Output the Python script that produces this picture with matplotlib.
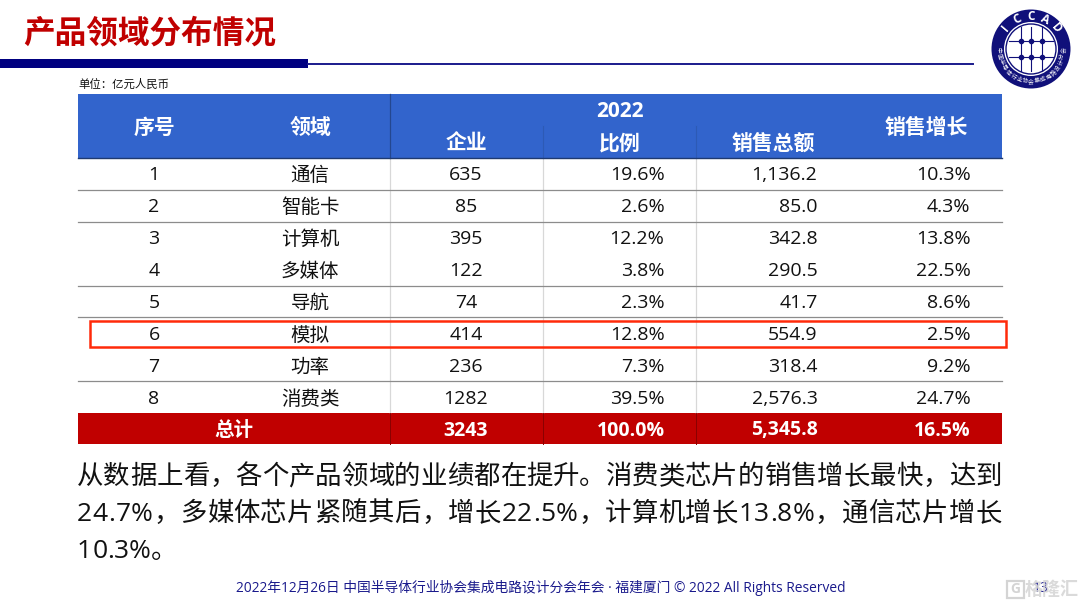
import numpy as np
import matplotlib
matplotlib.use("Agg")
import matplotlib.pyplot as plt
from matplotlib.patches import Rectangle, Circle

FONT = ['Open Sans', 'Noto Sans CJK SC', 'DejaVu Sans']
plt.rcParams['font.family'] = FONT

title = "产品领域分布情况"[:8]
unit = "单位：亿元人民币"
ids = ["1", "2", "3", "4", "5", "6", "7", "8"]
fields = ["通信", "智能卡", "计算机", "多媒体", "导航", "模拟", "功率", "消费类"]
companies = ["635", "85", "395", "122", "74", "414", "236", "1282"]
shares = ["19.6%", "2.6%", "12.2%", "3.8%", "2.3%", "12.8%", "7.3%", "39.5%"]
sales = ["1,136.2", "85.0", "342.8", "290.5", "41.7", "554.9", "318.4", "2,576.3"]
growth = ["10.3%", "4.3%", "13.8%", "22.5%", "8.6%", "2.5%", "9.2%", "24.7%"]
total = ["总计", "3243", "100.0%", "5,345.8", "16.5%"]
body_lines = ["从数据上看，各个产品领域的业绩都在提升。消费类芯片的销售增长最快，达到",
              "24.7%，多媒体芯片紧随其后，增长22.5%，计算机增长13.8%，通信芯片增长",
              "10.3%。"]
footer = "2022年12月26日 中国半导体行业协会集成电路设计分会年会 · 福建厦门 © 2022 All Rights Reserved"

NAVY = "#000080"
BLUE = "#3264CC"
RED = "#C00000"
fig = plt.figure(figsize=(10.8, 6.06), dpi=100)
ax = fig.add_axes([0, 0, 1, 1])
ax.set_xlim(0, 1080); ax.set_ylim(606, 0); ax.axis("off")

# title band
ax.text(23, 33, title, fontsize=22.8, fontweight="bold", color=RED, va="center", ha="left",
        family=['Noto Sans CJK SC'])
ax.add_patch(Rectangle((0, 59), 308, 9, color=NAVY, lw=0))
ax.plot([308, 973], [63.5, 63.5], color="#1a1a8c", lw=1.4)
ax.text(78, 85, unit, fontsize=8.2, color="#111111", va="center", ha="left")

# table layout
L, R = 78, 1002
top, head = 94, 158
rows = [158, 190, 222, 254, 286, 317, 349, 381, 413]
bot = 444
row_h = 32
ax.add_patch(Rectangle((L, top), R - L, head - top, color=BLUE, lw=0))
ax.add_patch(Rectangle((L, rows[-1]), R - L, bot - rows[-1], color=RED, lw=0))
for x in (390, 543, 696):
    ax.plot([x, x], [158, rows[-1]], color="#d8d8d8", lw=0.9, zorder=1)
    ax.plot([x, x], [rows[-1], bot], color="#8a0000", lw=0.7, zorder=2)
ax.plot([390, 390], [top, head], color="#24478f", lw=0.9)
for x in (543, 696):
    ax.plot([x, x], [126, head], color="#2d5ab5", lw=0.8)
ax.plot([L, R], [head, head], color="#1f3a70", lw=1)
skip = (254, 349)
for y in rows[1:-1]:
    if y in skip:
        continue
    ax.plot([L, R], [y, y], color="#8c8c8c", lw=0.9, zorder=1)

hk = dict(color="white", fontsize=15, fontweight="bold", va="center", ha="center",
          family=['Noto Sans CJK SC'])
ax.text(154, 127.5, "序号", **hk)
ax.text(310, 127.5, "领域", **hk)
ax.text(620, 111.5, "2022", **{**hk, "family": FONT})
ax.text(466, 143.5, "企业", **hk)
ax.text(620, 143.5, "比例", **hk)
ax.text(773, 143.5, "销售总额", **hk)
ax.text(926, 127.5, "销售增长", **hk)

bk = dict(color="#111111", fontsize=14, va="center")
for i in range(8):
    y = head + row_h / 2 + i * row_h + 0.5
    ax.text(154, y, ids[i], ha="center", **bk)
    ax.text(310, y + 1, fields[i], ha="center", **bk)
    ax.text(466, y, companies[i], ha="center", **bk)
    ax.text(664.5, y, shares[i], ha="right", **bk)
    ax.text(817.5, y, sales[i], ha="right", **bk)
    ax.text(970.5, y, growth[i], ha="right", **bk)
tk = dict(color="white", fontsize=14, fontweight="bold", va="center")
ym = head + row_h / 2 + 8 * row_h + 0.5
ax.text(234, ym, total[0], ha="center", **tk)
ax.text(466, ym, total[1], ha="center", **tk)
ax.text(664.5, ym, total[2], ha="right", **tk)
ax.text(817.5, ym, total[3], ha="right", **tk)
ax.text(970.5, ym, total[4], ha="right", **tk)

# highlight frame
ax.add_patch(Rectangle((90, 320.5), 916, 26.5, fill=False, ec="#FF2A0A", lw=1.8, zorder=5))

# commentary, justified to the text block width
rend = fig.canvas.get_renderer()
def char_w(ch):
    t = ax.text(0, 0, ch, fontsize=19)
    w = t.get_window_extent(rend).width
    t.remove()
    return w
def draw_line(txt, x0, x1, y):
    widths = [char_w(c) for c in txt]
    gap = 0 if x1 is None else (x1 - x0 - sum(widths)) / (len(txt) - 1)
    x = x0
    for c, w in zip(txt, widths):
        ax.text(x, y, c, fontsize=19, color="#111111", va="baseline", ha="left")
        x += w + gap
draw_line(body_lines[0], 77, 1002, 484)
draw_line(body_lines[1], 77, 1002, 521)
draw_line(body_lines[2], 77, None, 558)

ax.text(540.5, 588, footer, fontsize=9.9, color="#1a1a8c", va="center", ha="center")

# page number + watermark
ax.text(1041, 588, "13", fontsize=10, color="#1a1a8c", va="center", ha="center")
ax.add_patch(Rectangle((1007, 581), 17, 17, fill=False, ec="#d4d4d4", lw=1.6, zorder=6))
ax.text(1015.5, 589, "G", fontsize=10, fontweight="bold", color="#d4d4d4", va="center", ha="center", zorder=6)
ax.text(1052, 590, "格隆汇", fontsize=13, fontweight="bold", color="#d4d4d4", alpha=0.85,
        va="center", ha="center", zorder=6)

# logo
cx, cy = 1031, 49
ax.add_patch(Circle((cx, cy), 39.5, color="#10107a", lw=0, zorder=3))
ax.add_patch(Circle((cx, cy), 27, fc="white", ec="white", lw=0, zorder=4))
ax.add_patch(Circle((cx, cy), 25, fc="white", ec="#10107a", lw=1, zorder=4))
for dx in (-10, 0, 11):
    ax.plot([cx + dx, cx + dx], [cy - 22, cy + 22], color="#10107a", lw=0.8, zorder=5)
for dy in (-8, 8):
    ax.plot([cx - 22, cx + 22], [cy + dy, cy + dy], color="#10107a", lw=0.8, zorder=5)
    ax.plot([cx - 10, cx, cx + 11], [cy + dy] * 3, "o", color="#10107a", ms=3, zorder=6)
for i, ch in enumerate("ICCAD"):
    a = np.deg2rad(90 + 50 - i * 25)
    ax.text(cx + 33 * np.cos(a), cy - 33 * np.sin(a), ch, color="white", fontsize=8.5,
            fontweight="bold", rotation=np.rad2deg(a) - 90, ha="center", va="center", zorder=6)
logo_cn = "中国半导体行业协会集成电路设计分会"
n = len(logo_cn)
for i, ch in enumerate(logo_cn):
    a = np.deg2rad(180 + 2 + i * (176 / (n - 1)))
    ax.text(cx + 33 * np.cos(a), cy - 33 * np.sin(a), ch, color="white", fontsize=4.2,
            rotation=np.rad2deg(a) + 90, ha="center", va="center", zorder=6)

fig.savefig("out.png", dpi=100)
